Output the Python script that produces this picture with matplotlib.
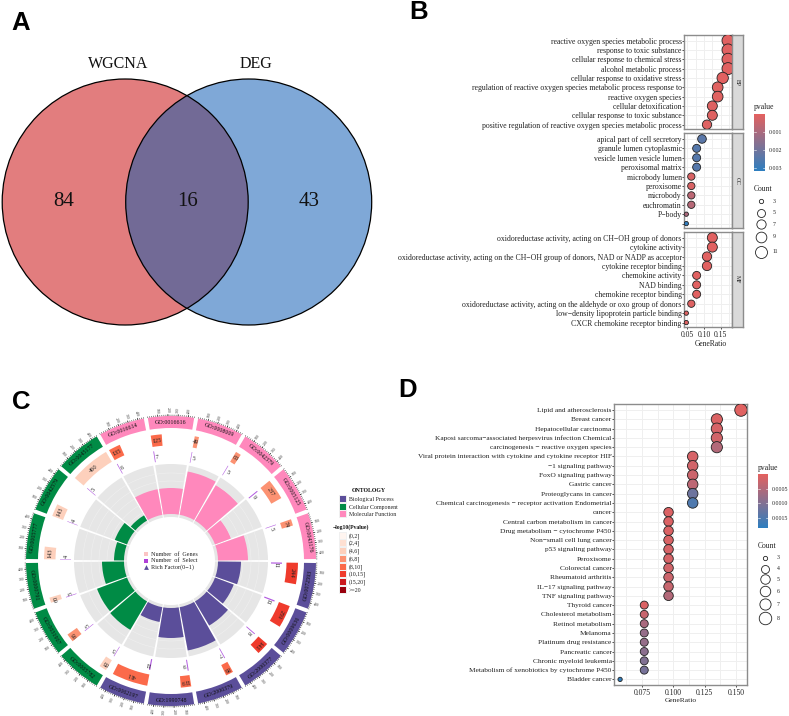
import numpy as np
import matplotlib
matplotlib.use("Agg")
import matplotlib.pyplot as plt
from matplotlib.patches import Circle
from matplotlib.colors import LinearSegmentedColormap, Normalize
from matplotlib.cm import ScalarMappable

plt.rcParams['font.family'] = ['Liberation Serif', 'DejaVu Sans']

W, H = 789, 716

# panel A
venn_names = ["WGCNA", "DEG"]
venn_counts = [84, 16, 43]

# panel B
bp_terms = ["reactive oxygen species metabolic process", "response to toxic substance",
            "cellular response to chemical stress", "alcohol metabolic process",
            "cellular response to oxidative stress",
            "regulation of reactive oxygen species metabolic process response to",
            "reactive oxygen species", "cellular detoxification",
            "cellular response to toxic substance",
            "positive regulation of reactive oxygen species metabolic process"]
bp_ratio = [0.172, 0.172, 0.172, 0.172, 0.156, 0.141, 0.141, 0.125, 0.125, 0.109]
bp_count = [11, 11, 11, 11, 10, 9, 9, 8, 8, 7]
bp_p = [0.00005, 0.00005, 0.00005, 0.00005, 0.00006, 0.00007, 0.00008, 0.0001, 0.0001, 0.0001]

cc_terms = ["apical part of cell secretory", "granule lumen cytoplasmic",
            "vesicle lumen vesicle lumen", "peroxisomal matrix", "microbody lumen",
            "peroxisome", "microbody", "euchromatin", "P\u2212body", ""]
cc_ratio = [0.094, 0.078, 0.078, 0.078, 0.062, 0.062, 0.062, 0.062, 0.047, 0.047]
cc_count = [6, 5, 5, 5, 4, 4, 4, 4, 3, 3]
cc_p = [0.0024, 0.0025, 0.0025, 0.0025, 0.0002, 0.0002, 0.0007, 0.0008, 0.0010, 0.0031]

mf_terms = ["oxidoreductase activity, acting on CH\u2212OH group of donors", "cytokine activity",
            "oxidoreductase activity, acting on the CH\u2212OH group of donors, NAD or NADP as acceptor",
            "cytokine receptor binding", "chemokine activity", "NAD binding",
            "chemokine receptor binding",
            "oxidoreductase activity, acting on the aldehyde or oxo group of donors",
            "low\u2212density lipoprotein particle binding", "CXCR chemokine receptor binding"]
mf_ratio = [0.125, 0.125, 0.109, 0.109, 0.078, 0.078, 0.078, 0.062, 0.047, 0.047]
mf_count = [8, 8, 7, 7, 5, 5, 5, 4, 3, 3]
mf_p = [0.00005, 0.00005, 0.00005, 0.00006, 0.00005, 0.00006, 0.00006, 0.0001, 0.0001, 0.0001]

# panel C, sectors clockwise starting at the left seam
go_ids = ["GO:0005777", "GO:0042579", "GO:0045177", "GO:0016614", "GO:0016616", "GO:0008009",
          "GO:0042379", "GO:0005125", "GO:0043176", "GO:0072593", "GO:0009636", "GO:2000377",
          "GO:2000379", "GO:1990748", "GO:0062197", "GO:0005782", "GO:0031907", "GO:0000791"]
go_groups = ["CC", "CC", "CC", "MF", "MF", "MF", "MF", "MF", "MF",
             "BP", "BP", "BP", "BP", "BP", "BP", "CC", "CC", "CC"]
go_genes = [143, 143, 460, 135, 125, 49, 63, 237, 74, 244, 259, 141, 86, 119, 411, 85, 95, 60]
go_select = [4, 4, 5, 6, 7, 5, 5, 9, 5, 11, 11, 8, 7, 9, 11, 5, 5, 5]
go_bins = [2, 2, 2, 4, 4, 3, 3, 3, 3, 5, 5, 5, 4, 4, 4, 2, 3, 2]
go_rich = [0.20, 0.26, 0.12, 0.52, 0.52, 0.88, 0.82, 0.34, 0.60,
           0.46, 0.40, 0.56, 0.88, 0.60, 0.30, 0.66, 0.64, 0.44]
p_bins = ["(0,2]", "(2,4]", "(4,6]", "(6,8]", "(8,10]", "(10,15]", "(15,20]", ">=20"]
bin_colors = ["#FFF5F0", "#FEE0D2", "#FDD0BC", "#FC9272", "#FB6A4A", "#EF3B2C", "#CB181D", "#99000D"]
onto_names = ["Biological Process", "Cellular Component", "Molecular Function"]
onto_colors = {"BP": "#5B4E9A", "CC": "#008B45", "MF": "#FF88BC"}

# panel D
kegg_terms = ["Lipid and atherosclerosis", "Breast cancer", "Hepatocellular carcinoma",
              "Kaposi sarcoma\u2212associated herpesvirus infection Chemical",
              "carcinogenesis \u2212 reactive oxygen species",
              "Viral protein interaction with cytokine and cytokine receptor HIF",
              "\u22121 signaling pathway", "FoxO signaling pathway", "Gastric cancer",
              "Proteoglycans in cancer", "Chemical carcinogenesis \u2212 receptor activation Endometrial",
              "cancer", "Central carbon metabolism in cancer", "Drug metabolism \u2212 cytochrome P450",
              "Non\u2212small cell lung cancer", "p53 signaling pathway", "Peroxisome",
              "Colorectal cancer", "Rheumatoid arthritis", "IL\u221217 signaling pathway",
              "TNF signaling pathway", "Thyroid cancer", "Cholesterol metabolism",
              "Retinol metabolism", "Melanoma", "Platinum drug resistance", "Pancreatic cancer",
              "Chronic myeloid leukemia", "Metabolism of xenobiotics by cytochrome P450",
              "Bladder cancer"]
kegg_ratio = [0.1538, 0.1346, 0.1346, 0.1346, 0.1346, 0.1154, 0.1154, 0.1154, 0.1154, 0.1154, 0.1154,
              0.0962, 0.0962, 0.0962, 0.0962, 0.0962, 0.0962, 0.0962, 0.0962, 0.0962, 0.0962,
              0.0769, 0.0769, 0.0769, 0.0769, 0.0769, 0.0769, 0.0769, 0.0769, 0.0577]
kegg_count = [8, 7, 7, 7, 7, 6, 6, 6, 6, 6, 6, 5, 5, 5, 5, 5, 5, 5, 5, 5, 5,
              4, 4, 4, 4, 4, 4, 4, 4, 3]
kegg_p = [0.00005, 0.0001, 0.00015, 0.0002, 0.0005, 0.00015, 0.0002, 0.00025, 0.0004, 0.0012, 0.0015,
          0.0001, 0.0001, 0.0001, 0.00012, 0.00015, 0.00015, 0.0002, 0.00025, 0.0003, 0.0005,
          0.0001, 0.0003, 0.0006, 0.0008, 0.0008, 0.0009, 0.0010, 0.0011, 0.0018]

cmap = LinearSegmentedColormap.from_list("pv", ["#E4615F", "#2E7EBF"])
TXT = "#222222"


def px_axes(x0, y0, x1, y1, **kw):
    return fig.add_axes([x0 / W, 1 - y1 / H, (x1 - x0) / W, (y1 - y0) / H], **kw)


def dot_size(count, counts, diams):
    return (np.interp(count, counts, diams) * 0.72) ** 2


def dot_panel(box, terms, ratio, count, p, xlim, size_tab, vmax, xticks, minor, ylim, fs):
    ax = px_axes(*box)
    n = len(terms)
    norm = Normalize(0, vmax)
    ax.scatter(ratio, range(n), s=dot_size(count, *size_tab), c=cmap(norm(np.array(p))),
               edgecolors="#222222", linewidths=0.6, zorder=3)
    ax.set_xlim(*xlim)
    ax.set_ylim(*ylim)
    ax.set_yticks(range(n))
    ax.set_yticklabels(terms, fontsize=fs, color=TXT)
    ax.set_xticks(xticks)
    ax.set_xticks(minor, minor=True)
    ax.grid(True, which="both", color="#EFEFEF", lw=0.7, zorder=0)
    ax.tick_params(axis="y", length=1.5, width=0.5, pad=0.5)
    ax.tick_params(axis="x", length=1.5, width=0.5, pad=1.5, labelsize=5.5, labelcolor=TXT)
    ax.tick_params(axis="x", which="minor", length=0)
    ax.set_axisbelow(True)
    for s in ax.spines.values():
        s.set_color("#8C8C8C")
        s.set_linewidth(1.0)
    return ax


def legend_bar(box, vmax, ticks, labels, title_y):
    cax = px_axes(*box)
    cb = fig.colorbar(ScalarMappable(Normalize(0, vmax), cmap), cax=cax)
    cax.invert_yaxis()
    cb.set_ticks(ticks)
    cb.set_ticklabels(labels)
    cb.outline.set_visible(False)
    cax.tick_params(length=0, labelsize=4.2, pad=2.5, labelcolor=TXT)
    for t in ticks:
        cax.plot([0, 0.2], [t, t], color="white", lw=0.4, transform=cax.get_yaxis_transform())
        cax.plot([0.8, 1], [t, t], color="white", lw=0.4, transform=cax.get_yaxis_transform())
    canvas.text(box[0], title_y, "pvalue", fontsize=5.5, color=TXT, va="center")


fig = plt.figure(figsize=(W / 100, H / 100), dpi=100)
canvas = fig.add_axes([0, 0, 1, 1], zorder=5)
canvas.set_xlim(0, W)
canvas.set_ylim(H, 0)
canvas.axis("off")
canvas.patch.set_alpha(0)

# panel letters
for lab, x, y in [("A", 21, 23), ("B", 419, 12), ("C", 21, 402), ("D", 408, 390)]:
    canvas.text(x, y, lab, family="Liberation Sans", fontweight="bold", fontsize=18.5,
                ha="center", va="center", color="black")

# A: venn
left = Circle((125.2, 202), 123, fc="#E27D7E", ec="none")
right = Circle((248.7, 202), 123, fc="#7FA8D7", ec="none")
canvas.add_patch(left)
canvas.add_patch(right)
both = Circle((248.7, 202), 123, fc="#726A96", ec="none")
canvas.add_patch(both)
both.set_clip_path(left)
canvas.add_patch(Circle((125.2, 202), 123, fc="none", ec="black", lw=0.9))
canvas.add_patch(Circle((248.7, 202), 123, fc="none", ec="black", lw=0.9))
canvas.text(118, 64, venn_names[0], fontsize=11.5, ha="center", va="center", color="#111111")
canvas.text(256, 64, venn_names[1], fontsize=11.5, ha="center", va="center", color="#111111")
for v, x in zip(venn_counts, [63.5, 187.5, 309.5]):
    canvas.text(x, 202, str(v), fontsize=15, ha="center", va="center", color="#111111")

# B: faceted dots
b_sizes = ([3, 4, 5, 7, 9, 11], [4.3, 7.3, 8.0, 9.3, 10.7, 12.0])
b_legend = [3, 5, 7, 9, 11]
b_xlim = (0.041, 0.183)
b_facets = [("BP", 35, 129.3, bp_terms, bp_ratio, bp_count, bp_p),
            ("CC", 133.3, 228.3, cc_terms, cc_ratio, cc_count, cc_p),
            ("MF", 232, 327.3, mf_terms, mf_ratio, mf_count, mf_p)]
for i, (name, y0, y1, terms, ratio, count, p) in enumerate(b_facets):
    ax = dot_panel((684.3, y0, 731.7, y1), terms, ratio, np.array(count), p, b_xlim, b_sizes,
                   0.00317, [0.05, 0.10, 0.15], [0.075, 0.125, 0.175], (9.5, -0.6), 5.6)
    if i < 2:
        ax.tick_params(axis="x", which="both", length=0, labelbottom=False)
    else:
        ax.set_xticklabels(["0.05", "0.10", "0.15"])
        ax.set_xlabel("GeneRatio", fontsize=5.5, color=TXT, labelpad=0.5, x=0.56)
    strip = px_axes(731.7, y0, 743, y1)
    strip.set_facecolor("#D9D9D9")
    strip.set_xticks([])
    strip.set_yticks([])
    for s in strip.spines.values():
        s.set_color("#8C8C8C")
        s.set_linewidth(1.0)
    strip.text(0.5, 0.5, name, rotation=-90, fontsize=4.2, ha="center", va="center",
               transform=strip.transAxes, color=TXT)

legend_bar((754, 114, 765.3, 170.7), 0.00317, [0.001, 0.002, 0.003], ["0.001", "0.002", "0.003"], 107.3)
canvas.text(754, 188.7, "Count", fontsize=5.5, color=TXT, va="center")
for c, y in zip(b_legend, [201.3, 212.7, 224, 237, 251.7]):
    canvas.scatter([761], [y], s=dot_size(c, *b_sizes), fc="white", ec="#222222", lw=0.6)
    canvas.text(772.3, y, str(c), fontsize=4.2, color=TXT, va="center")

# C: circular enrichment plot
pol = px_axes(16, 406, 326, 716, projection="polar")
pol.set_theta_zero_location("N")
pol.set_theta_direction(-1)
pol.set_rlim(0, 155)
pol.axis("off")

for i, gid in enumerate(go_ids):
    start = 270 + 20 * i
    col = onto_colors[go_groups[i]]
    # outer ring
    pol.bar(np.deg2rad(start + 0.8), 12, np.deg2rad(18.4), bottom=133, align="edge", color=col, lw=0)
    mid = (start + 10) % 360
    rot = 180 - mid if 90 < mid < 270 else -mid
    pol.text(np.deg2rad(mid), 139, gid, rotation=rot, rotation_mode="anchor", fontsize=4.3,
             ha="center", va="center", color="#111111")
    # axis ticks round the ring
    minor_t = np.deg2rad(start + 0.8 + np.arange(0, 18.5, 0.8))
    pol.vlines(minor_t, 145, 146.3, color="#111111", lw=0.35)
    for k, lab in enumerate(["100", "200", "300", "400"]):
        a = (start + 0.8 + 4 * (k + 1)) % 360
        pol.vlines(np.deg2rad(a), 145, 147, color="#111111", lw=0.4)
        r2 = 270 - a if a > 180 else 90 - a
        pol.text(np.deg2rad(a), 151, lab, rotation=r2, rotation_mode="anchor", fontsize=2.8,
                 ha="center", va="center", color="#444444")
    # gene bars, angular width follows the number of genes
    g_w = go_genes[i] * 0.04
    pol.bar(np.deg2rad(start + 0.8), 11.5, np.deg2rad(g_w), bottom=115.5, align="edge",
            color=bin_colors[go_bins[i]], lw=0)
    g_mid = start + 0.8 + g_w / 2
    pol.text(np.deg2rad(g_mid), 121, str(go_genes[i]), rotation=-g_mid, rotation_mode="anchor",
             fontsize=4.6, ha="center", va="center", color="#222222")
    # selected genes
    pol.bar(np.deg2rad(start + 0.8), 11, np.deg2rad(go_select[i] * 0.06), bottom=100, align="edge",
            color="#B25CE0", lw=0)
    s_mid = start + 2.4
    pol.text(np.deg2rad(s_mid), 105, str(go_select[i]), rotation=-s_mid, rotation_mode="anchor",
             fontsize=4.4, ha="center", va="center", color="#222222")
    # rich factor
    pol.bar(np.deg2rad(start + 0.6), 53, np.deg2rad(18.8), bottom=44, align="edge", color="#E6E6E6", lw=0)
    arc = np.deg2rad(np.linspace(start + 0.6, start + 19.4, 30))
    for rr in [56, 64, 72, 80, 88]:
        pol.plot(arc, np.full(30, rr), color="#F0F0F0", lw=0.4)
    pol.bar(np.deg2rad(start + 0.6), go_rich[i] * 50, np.deg2rad(18.8), bottom=47, align="edge",
            color=col, lw=0, zorder=3)

key_cols = ["#FBC4C4", "#B040D8"]
key_labs = ["Number  of  Genes", "Number  of  Select", "Rich Factor(0\u22121)"]
for y, col, lab in zip([554.3, 560.7, 567], key_cols + [None], key_labs):
    if col:
        canvas.scatter([146], [y], marker="s", s=11, c=col, lw=0)
    else:
        canvas.scatter([146], [y], marker="^", s=12, c="#5B4E9A", lw=0)
    canvas.text(151, y, lab, fontsize=4.4, va="center", color=TXT)

canvas.text(368.5, 490, "ONTOLOGY", fontsize=4.2, fontweight="bold", ha="center", va="center", color="#111111")
for y, key, lab in zip([499, 507, 514.3], ["BP", "CC", "MF"], onto_names):
    canvas.scatter([343], [y], marker="s", s=28, c="#EFEFEF", lw=0)
    canvas.scatter([343], [y], marker="s", s=14, c=onto_colors[key], lw=0)
    canvas.text(349, y, lab, fontsize=4.2, va="center", color=TXT)
canvas.text(351, 526.7, "\u2212log10(Pvalue)", fontsize=4.1, fontweight="bold", ha="center", va="center",
            color="#111111")
for y, col, lab in zip([535.7, 543.3, 551, 559, 566.7, 574.3, 582, 590], bin_colors, p_bins):
    canvas.scatter([343], [y], marker="s", s=34, c="#F0F0F0", lw=0)
    canvas.scatter([343], [y], marker="s", s=16, c=col, lw=0)
    canvas.text(349, y, lab, fontsize=4.2, va="center", color=TXT)

# D: KEGG dots
d_sizes = ([3, 4, 5, 6, 7, 8], [4.3, 8.0, 9.5, 10.5, 11.2, 12.5])
ax = dot_panel((614.3, 404, 747.3, 684.7), kegg_terms, kegg_ratio, np.array(kegg_count), kegg_p,
               (0.0531, 0.1588), d_sizes, 0.00183, [0.075, 0.100, 0.125, 0.150],
               [0.0625, 0.0875, 0.1125, 0.1375], (29.57, -0.65), 5.35)
ax.set_xticklabels(["0.075", "0.100", "0.125", "0.150"])
ax.set_xlabel("GeneRatio", fontsize=5.4, color=TXT, labelpad=0.5)

legend_bar((757.7, 474, 768.3, 527.7), 0.00183, [0.0005, 0.0010, 0.0015], ["0.0005", "0.0010", "0.0015"], 467.7)
canvas.text(757.7, 545.7, "Count", fontsize=5.5, color=TXT, va="center")
for c, y in zip(d_sizes[0], [557.7, 568.7, 579.3, 591.3, 604, 618]):
    canvas.scatter([764.7], [y], s=dot_size(c, *d_sizes), fc="white", ec="#222222", lw=0.6)
    canvas.text(776.7, y, str(c), fontsize=4.2, color=TXT, va="center")

fig.savefig("out.png", dpi=100)
